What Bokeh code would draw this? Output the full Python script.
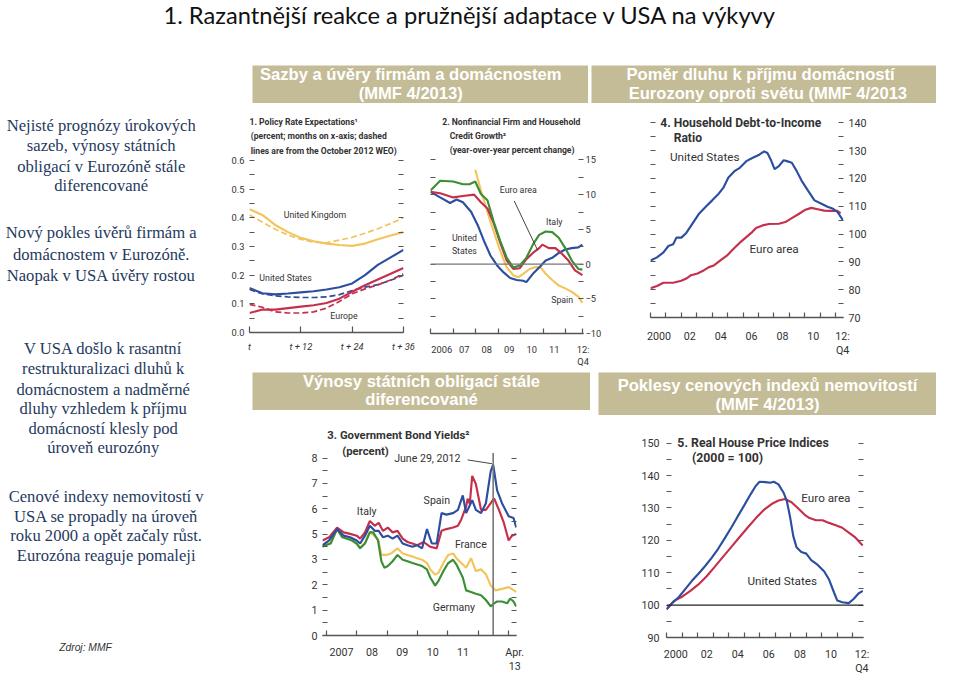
from bokeh.plotting import figure
from bokeh.models import Range1d, LinearAxis, FixedTicker, Spacer, Span
from bokeh.layouts import row, column
from bokeh.embed import file_html
from bokeh.resources import INLINE
from bokeh.core.properties import value

# ---------------------------------------------------------------- data
# Panel 1: policy rate expectations (months ahead)
p1_months = [0, 3, 6, 9, 12, 15, 18, 21, 24, 27, 30, 33, 36]
p1_uk = [0.43, 0.41, 0.375, 0.35, 0.33, 0.318, 0.31, 0.305, 0.302, 0.31, 0.325, 0.338, 0.35]
p1_uk_weo = [0.41, 0.385, 0.36, 0.34, 0.325, 0.315, 0.313, 0.322, 0.332, 0.346, 0.362, 0.38, 0.40]
p1_us = [0.155, 0.137, 0.133, 0.136, 0.14, 0.144, 0.15, 0.158, 0.171, 0.2, 0.236, 0.262, 0.288]
p1_us_weo = [0.15, 0.135, 0.128, 0.124, 0.122, 0.122, 0.124, 0.132, 0.146, 0.158, 0.167, 0.182, 0.2]
p1_eu = [0.068, 0.08, 0.08, 0.085, 0.09, 0.095, 0.103, 0.118, 0.142, 0.165, 0.185, 0.205, 0.225]
p1_eu_weo = [0.098, 0.088, 0.072, 0.068, 0.068, 0.072, 0.085, 0.108, 0.135, 0.152, 0.166, 0.183, 0.205]
p1_yticks = [0.0, 0.1, 0.2, 0.3, 0.4, 0.5, 0.6]
p1_yminor = [0.05, 0.15, 0.25, 0.35, 0.45, 0.55]
p1_ylabels = ["0.0", "0.1", "0.2", "0.3", "0.4", "0.5", "0.6"]
p1_xticks = [0, 12, 24, 36]
p1_xlabels = ["t", "t + 12", "t + 24", "t + 36"]

# Panel 2: credit growth (years)
p2_it_x = [2006.00, 2006.43, 2007.01, 2007.44, 2007.73, 2007.99, 2008.24, 2008.53, 2008.81, 2009.10, 2009.39,
           2009.68, 2009.97, 2010.26, 2010.55, 2010.83, 2011.12, 2011.41, 2011.70, 2011.99, 2012.28, 2012.57, 2012.75]
p2_it = [10.6, 12.0, 11.9, 11.5, 11.5, 11.9, 10.1, 9.2, 6.1, 3.3, 0.9, -0.5, -0.2, 0.9, 2.8, 4.2, 4.7, 4.6,
         3.8, 2.3, 0.5, -0.7, -0.8]
p2_ea_x = [2006.00, 2006.43, 2007.01, 2007.44, 2007.94, 2008.24, 2008.53, 2008.81, 2009.10, 2009.39, 2009.68,
           2009.97, 2010.26, 2010.55, 2010.83, 2010.97, 2011.26, 2011.55, 2011.84, 2012.13, 2012.42, 2012.75]
p2_ea = [10.4, 10.2, 9.6, 9.8, 10.0, 8.9, 8.0, 5.9, 3.1, 0.5, -0.7, -0.6, 0.7, 1.6, 2.3, 2.8, 2.3, 2.3, 1.5,
         0.5, -0.9, -1.6]
p2_us_x = [2006.00, 2006.43, 2006.87, 2007.16, 2007.44, 2007.81, 2008.10, 2008.38, 2008.67, 2008.96, 2009.25,
           2009.54, 2009.83, 2010.12, 2010.26, 2010.55, 2010.83, 2011.12, 2011.41, 2011.70, 2011.99, 2012.28,
           2012.57, 2012.75]
p2_us = [10.4, 9.6, 8.8, 9.3, 8.9, 7.5, 5.6, 3.3, 1.2, -0.2, -1.2, -2.0, -2.3, -2.4, -2.6, -1.4, -0.5, 0.5, 0.9,
         1.6, 2.1, 2.3, 2.4, 2.8]
p2_es_x = [2007.99, 2008.24, 2008.53, 2008.81, 2009.10, 2009.39, 2009.68, 2009.90, 2010.12, 2010.41, 2010.70,
           2010.91, 2011.12, 2011.41, 2011.70, 2011.99, 2012.28, 2012.57, 2012.75]
p2_es = [13.6, 10.6, 7.5, 4.7, 1.9, -0.5, -1.6, -1.9, -1.4, -0.7, -0.4, -0.5, -1.4, -2.3, -3.1, -3.5, -4.0, -4.7,
         -5.6]
p2_yticks = [-10, -5, 0, 5, 10, 15]
p2_yminor = [-7.5, -2.5, 2.5, 7.5, 12.5]
p2_ylabels = ["\u221210", "\u22125", "0", "5", "10", "15"]
p2_xbounds = [2006, 2007, 2008, 2009, 2010, 2011, 2012, 2012.75]
p2_xlabel_pos = [2006.5, 2007.5, 2008.5, 2009.5, 2010.5, 2011.5, 2012.78]
p2_xlabels = ["2006", "07", "08", "09", "10", "11", "12:\nQ4"]

# Panel 3: government bond yields (axis position units; tick labels as printed)
p3_de_x = [2006.87, 2006.98, 2007.14, 2007.35, 2007.52, 2007.68, 2007.84, 2008.00, 2008.11, 2008.27, 2008.43,
           2008.54, 2008.70, 2008.81, 2008.91, 2009.02, 2009.18, 2009.34, 2009.51, 2009.67, 2009.83, 2009.99,
           2010.15, 2010.31, 2010.42, 2010.58, 2010.69, 2010.85, 2011.01, 2011.17, 2011.28, 2011.39, 2011.49,
           2011.60, 2011.76, 2011.92, 2012.09, 2012.25, 2012.41, 2012.52, 2012.62, 2012.78, 2012.95, 2013.05,
           2013.16, 2013.25]
p3_de = [3.50, 3.56, 3.63, 4.20, 3.88, 3.82, 3.75, 3.63, 3.44, 3.63, 4.07, 4.07, 3.75, 2.93, 2.67, 2.74, 2.93,
         3.18, 2.99, 2.93, 2.86, 2.80, 2.74, 2.61, 2.29, 1.97, 2.16, 2.54, 2.86, 2.99, 2.80, 2.54, 2.29, 1.78,
         1.72, 1.65, 1.59, 1.40, 1.15, 1.27, 1.34, 1.34, 1.27, 1.46, 1.34, 1.15]
p3_fr_x = [2006.87, 2007.14, 2007.35, 2007.52, 2007.84, 2008.11, 2008.27, 2008.43, 2008.70, 2008.81, 2008.97,
           2009.13, 2009.34, 2009.51, 2009.67, 2009.83, 2009.99, 2010.15, 2010.31, 2010.42, 2010.58, 2010.69,
           2010.85, 2011.01, 2011.17, 2011.28, 2011.44, 2011.60, 2011.76, 2011.92, 2012.09, 2012.25, 2012.41,
           2012.57, 2012.78, 2013.00, 2013.25]
p3_fr = [3.52, 3.66, 4.22, 3.90, 3.78, 3.47, 3.66, 4.10, 3.80, 3.18, 3.18, 3.24, 3.44, 3.24, 3.18, 3.12, 3.05,
         2.99, 2.86, 2.61, 2.40, 2.48, 2.86, 3.18, 3.24, 3.05, 2.86, 2.67, 3.05, 2.54, 2.61, 2.42, 1.97, 1.78,
         1.84, 1.91, 1.72]
p3_it_x = [2006.87, 2007.09, 2007.35, 2007.57, 2007.78, 2008.00, 2008.11, 2008.27, 2008.43, 2008.59, 2008.72,
           2008.86, 2009.02, 2009.18, 2009.34, 2009.51, 2009.67, 2009.83, 2009.99, 2010.20, 2010.42, 2010.63,
           2010.79, 2010.95, 2011.17, 2011.33, 2011.44, 2011.60, 2011.65, 2011.72, 2011.80, 2011.92, 2012.09,
           2012.25, 2012.41, 2012.52, 2012.68, 2012.84, 2013.00, 2013.11, 2013.25]
p3_it = [3.75, 3.88, 4.26, 4.07, 4.01, 3.94, 3.82, 4.07, 4.52, 4.33, 4.45, 4.13, 4.26, 4.07, 4.13, 3.82, 3.69,
         3.63, 3.56, 3.69, 3.50, 3.44, 4.13, 4.20, 4.26, 4.33, 4.58, 5.09, 5.40, 5.20, 6.30, 5.98, 4.96, 4.96,
         5.22, 5.41, 4.96, 4.45, 3.75, 3.94, 4.01]
p3_es_x = [2006.87, 2007.09, 2007.35, 2007.57, 2007.78, 2008.00, 2008.11, 2008.27, 2008.43, 2008.59, 2008.72,
           2008.86, 2009.02, 2009.18, 2009.34, 2009.51, 2009.67, 2009.83, 2009.99, 2010.15, 2010.31, 2010.47,
           2010.63, 2010.79, 2010.95, 2011.17, 2011.33, 2011.49, 2011.60, 2011.80, 2011.92, 2012.09, 2012.25,
           2012.41, 2012.49, 2012.62, 2012.78, 2013.00, 2013.16, 2013.25]
p3_es = [3.56, 3.75, 4.20, 3.94, 3.88, 3.75, 3.63, 3.94, 4.33, 4.13, 4.13, 3.88, 3.94, 3.82, 3.94, 3.63, 3.56,
         3.50, 3.56, 3.44, 4.20, 3.63, 3.63, 4.83, 4.77, 4.83, 4.96, 5.53, 4.83, 5.34, 4.96, 4.83, 5.22, 6.49,
         6.74, 5.73, 5.22, 4.71, 4.64, 4.26]
p3_event = [2012.49]
p3_event_top = [7.2]
p3_yticks = [0, 1, 2, 3, 4, 5, 6, 7]
p3_yminor = [0.5, 1.5, 2.5, 3.5, 4.5, 5.5, 6.5]
p3_ylabels = ["0", "1", "2", "3", "5", "6", "7", "8"]
p3_xbounds = [2007, 2008, 2009, 2010, 2011, 2012, 2013]
p3_xlabel_pos = [2007.5, 2008.5, 2009.5, 2010.5, 2011.5, 2013.2]
p3_xlabels = ["2007", "08", "09", "10", "11", "Apr.\n13"]

# Panel 4: household debt-to-income ratio
p4_us_x = [2000.00, 2000.42, 2000.84, 2001.16, 2001.47, 2001.68, 2002.00, 2002.32, 2002.74, 2003.16, 2003.58,
           2004.00, 2004.42, 2004.74, 2005.05, 2005.47, 2005.79, 2006.21, 2006.63, 2007.05, 2007.37, 2007.58,
           2007.79, 2008.04, 2008.32, 2008.63, 2008.84, 2009.16, 2009.47, 2009.79, 2010.21, 2010.63, 2011.05,
           2011.47, 2011.79, 2012.11, 2012.46]
p4_us = [90.5, 91.6, 93.4, 95.7, 96.3, 98.7, 98.7, 100.4, 103.9, 107.4, 109.8, 112.1, 114.5, 116.8, 120.3, 122.7,
         123.8, 126.2, 127.4, 128.5, 129.7, 129.1, 126.8, 123.3, 124.4, 126.5, 126.2, 125.6, 122.7, 119.2, 115.6,
         112.1, 111.0, 109.8, 109.2, 108.0, 105.1]
p4_ea_x = [2000.00, 2000.42, 2000.84, 2001.47, 2002.00, 2002.32, 2002.63, 2003.05, 2003.47, 2003.79, 2004.11,
           2004.53, 2004.95, 2005.37, 2005.79, 2006.21, 2006.53, 2006.84, 2007.26, 2007.68, 2008.32, 2008.74,
           2009.16, 2009.58, 2010.00, 2010.42, 2010.84, 2011.26, 2011.68, 2012.11, 2012.32]
p4_ea = [80.5, 81.3, 82.5, 82.5, 83.2, 84.0, 85.2, 85.8, 87.0, 88.1, 88.7, 90.5, 92.2, 94.6, 96.9, 98.9, 100.4,
         102.2, 103.1, 103.6, 103.7, 104.3, 105.7, 107.1, 108.6, 109.4, 108.9, 108.4, 108.3, 108.3, 107.4]
p4_yticks = [70, 80, 90, 100, 110, 120, 130, 140]
p4_yminor = [75, 85, 95, 105, 115, 125, 135]
p4_ylabels = ["70", "80", "90", "100", "110", "120", "130", "140"]
p4_xbounds = list(range(2000, 2013))
p4_xlabel_pos = [2000.55, 2002.55, 2004.55, 2006.55, 2008.55, 2010.55, 2012.45]
p4_xlabels = ["2000", "02", "04", "06", "08", "10", "12:\nQ4"]

# Panel 5: real house price indices (2000 = 100)
p5_us_x = [2000.00, 2000.38, 2000.80, 2001.22, 2001.64, 2002.06, 2002.48, 2002.91, 2003.33, 2003.75, 2004.17,
           2004.59, 2005.01, 2005.43, 2005.75, 2006.00, 2006.38, 2006.69, 2006.91, 2007.22, 2007.54, 2007.75,
           2007.96, 2008.17, 2008.38, 2008.69, 2009.01, 2009.33, 2009.75, 2010.17, 2010.48, 2010.80, 2011.01,
           2011.33, 2011.75, 2012.06, 2012.38, 2012.65]
p5_us = [98.7, 100.7, 102.5, 105.0, 107.5, 109.7, 112.0, 114.6, 117.4, 120.6, 123.9, 127.4, 130.8, 134.3, 136.8,
         138.1, 138.0, 137.8, 138.1, 137.3, 134.8, 132.3, 127.4, 121.4, 117.9, 116.4, 115.9, 113.9, 112.4, 110.4,
         107.9, 103.9, 101.4, 100.9, 100.6, 101.9, 103.6, 104.4]
p5_ea_x = [2000.00, 2000.48, 2001.01, 2001.54, 2002.06, 2002.59, 2003.12, 2003.64, 2004.17, 2004.69, 2005.22,
           2005.75, 2006.27, 2006.80, 2007.22, 2007.64, 2008.06, 2008.48, 2008.91, 2009.22, 2009.64, 2010.06,
           2010.48, 2010.91, 2011.33, 2011.75, 2012.17, 2012.65]
p5_ea = [98.7, 101.3, 102.6, 104.4, 106.4, 108.9, 111.9, 114.9, 117.9, 120.9, 123.9, 126.8, 129.4, 131.3, 132.3,
         132.8, 131.8, 129.9, 127.9, 126.9, 126.2, 126.2, 125.4, 124.7, 123.9, 122.4, 120.9, 118.4]
p5_base = 100
p5_yticks = [90, 100, 110, 120, 130, 140, 150]
p5_yminor = [95, 105, 115, 125, 135, 145]
p5_ylabels = ["90", "100", "110", "120", "130", "140", "150"]
p5_xbounds = list(range(2000, 2013))
p5_xlabel_pos = [2000.6, 2002.6, 2004.6, 2006.6, 2008.6, 2010.6, 2012.6]
p5_xlabels = ["2000", "02", "04", "06", "08", "10", "12:\nQ4"]

# ---------------------------------------------------------------- style
S = 0.977
FONT = "Roboto"
INK = "#333333"
TICK = "#555555"
YEL = "#F2C55C"
RED = "#C62F4B"
BLU = "#2C4EA0"
GRN = "#3A8E34"
TAN = "#C4BC96"
NAVY = "#1F3A60"
LW = 2.2 * S


def sc(v):
    return int(round(v * S))


def fs(px):
    return f"{px * S:.1f}px"


def sp(w, h):
    return Spacer(width=max(int(w), 1), height=max(int(h), 1))


def make_panel(xspan, frame, row_span, tb, xr, yr):
    """xspan: figure left/right (ref px); frame: frame box (ref px);
    row_span: top/bottom of the row (ref px); tb: top/bottom border (px)."""
    x0, x1 = xspan
    fx0, fy0, fx1, fy1 = frame
    r0, r1 = row_span
    T, B = tb
    w = sc(x1) - sc(x0)
    h = sc(fy1) - sc(fy0) + T + B
    p = figure(width=w, height=h, title=None,
               x_range=Range1d(*xr), y_range=Range1d(*yr),
               x_axis_type=None, y_axis_type=None,
               output_backend="svg", toolbar_location=None,
               min_border_left=sc(fx0) - sc(x0), min_border_right=sc(x1) - sc(fx1),
               min_border_top=T, min_border_bottom=B)
    p.outline_line_color = None
    p.background_fill_color = "white"
    p.border_fill_color = "white"
    top_gap = sc(fy0) - T - sc(r0)
    bot_gap = sc(r1) - (sc(fy1) + B)
    kids = []
    if top_gap > 0:
        kids.append(sp(w, top_gap))
    kids.append(p)
    if bot_gap > 0:
        kids.append(sp(w, bot_gap))
    return p, column(*kids)


def y_axis(p, side, ticks, minor, labels=None, size=10, standoff=4):
    ax = LinearAxis(ticker=FixedTicker(ticks=ticks, minor_ticks=minor))
    ax.axis_line_color = None
    ax.major_tick_in = sc(5)
    ax.major_tick_out = 0
    ax.minor_tick_in = sc(5)
    ax.minor_tick_out = 0
    ax.major_tick_line_color = TICK
    ax.minor_tick_line_color = TICK
    ax.major_tick_line_width = 1.1
    ax.minor_tick_line_width = 1.1
    if labels:
        ax.major_label_overrides = {t: l for t, l in zip(ticks, labels)}
        ax.major_label_standoff = sc(standoff)
    else:
        ax.major_label_overrides = {t: "" for t in ticks}
        ax.major_label_standoff = 0
    ax.major_label_text_font = FONT
    ax.major_label_text_font_size = fs(size)
    ax.major_label_text_color = INK
    p.add_layout(ax, side)


def x_axis(p, label_pos, labels, bounds, size=10, standoff=5, italic=False, major_ticks=False):
    ax = LinearAxis(ticker=FixedTicker(ticks=label_pos, minor_ticks=bounds))
    ax.axis_line_color = TICK
    ax.axis_line_width = 1.3
    if major_ticks:
        ax.major_tick_in = sc(6)
        ax.major_tick_out = 0
        ax.major_tick_line_color = TICK
        ax.major_tick_line_width = 1.2
    else:
        ax.major_tick_line_color = None
    ax.minor_tick_in = sc(5)
    ax.minor_tick_out = 0
    ax.minor_tick_line_color = TICK
    ax.minor_tick_line_width = 1.2
    ax.major_label_overrides = {t: l for t, l in zip(label_pos, labels)}
    ax.major_label_standoff = sc(standoff)
    ax.major_label_text_font = FONT
    ax.major_label_text_font_size = fs(size)
    ax.major_label_text_color = INK
    ax.major_label_text_line_height = 1.1
    if italic:
        ax.major_label_text_font_style = "italic"
    p.add_layout(ax, "below")


def label(p, x, y, txt, size=9, bold=False, align="left", color=INK, font=FONT):
    p.text(x=[x], y=[y], text=[txt], text_font=value(font), text_font_size=fs(size),
           text_font_style="bold" if bold else "normal", text_align=align,
           text_baseline="middle", text_color=color)


def canvas(x0, y0, x1, y1, bg="white"):
    p = figure(width=sc(x1) - sc(x0), height=sc(y1) - sc(y0), title=None,
               x_range=Range1d(x0, x1), y_range=Range1d(y1, y0),
               x_axis_type=None, y_axis_type=None,
               output_backend="svg", toolbar_location=None, min_border=0)
    p.outline_line_color = None
    p.background_fill_color = bg
    p.border_fill_color = bg
    return p


ROW1 = (105, 381)
ROW2 = (427, 693)

# ---------------------------------------------------------------- panel 1
p1, w1 = make_panel((228, 432), (255, 116, 412, 340), ROW1, (8, 37), (0, 36), (0, 0.7637))
y_axis(p1, "left", p1_yticks, p1_yminor, p1_ylabels, size=9.5, standoff=5)
y_axis(p1, "right", p1_yticks, p1_yminor)
x_axis(p1, p1_xticks, p1_xlabels, [], size=9.5, standoff=8, italic=True, major_ticks=True)
p1.line(p1_months, p1_uk_weo, line_color=YEL, line_width=LW * 0.8, line_dash="6 3")
p1.line(p1_months, p1_uk, line_color=YEL, line_width=LW)
p1.line(p1_months, p1_us_weo, line_color=BLU, line_width=LW * 0.8, line_dash="6 3")
p1.line(p1_months, p1_eu_weo, line_color=RED, line_width=LW * 0.8, line_dash="6 3")
p1.line(p1_months, p1_eu, line_color=RED, line_width=LW)
p1.line(p1_months, p1_us, line_color=BLU, line_width=LW)
label(p1, 0, 0.733, "1. Policy Rate Expectations\u00b9", size=8.8, bold=True)
label(p1, 0.3, 0.684, "(percent; months on x-axis; dashed", size=8.8, bold=True)
label(p1, 0.3, 0.633, "lines are from the October 2012 WEO)", size=8.8, bold=True)
label(p1, 8.0, 0.411, "United Kingdom", size=9)
label(p1, 2.3, 0.19, "United States", size=9)
label(p1, 18.9, 0.057, "Europe", size=9)

# ---------------------------------------------------------------- panel 2
p2, w2 = make_panel((432, 625), (440, 116, 597, 341), ROW1, (8, 37), (2006.0, 2012.8), (-10, 21.69))
y_axis(p2, "left", p2_yticks, p2_yminor)
y_axis(p2, "right", p2_yticks, p2_yminor, p2_ylabels, size=9.5, standoff=2)
x_axis(p2, p2_xlabel_pos, p2_xlabels, p2_xbounds, size=9.5, standoff=4)
p2.add_layout(Span(location=0, dimension="width", line_color="#777777", line_width=1.4))
p2.line(p2_es_x, p2_es, line_color=YEL, line_width=LW)
p2.line(p2_us_x, p2_us, line_color=BLU, line_width=LW)
p2.line(p2_ea_x, p2_ea, line_color=RED, line_width=LW)
p2.line(p2_it_x, p2_it, line_color=GRN, line_width=LW)
p2.line([2009.72, 2010.76], [9.1, 2.0], line_color="#444444", line_width=1)
label(p2, 2006.52, 20.4, "2. Nonfinancial Firm and Household", size=8.8, bold=True)
label(p2, 2006.85, 18.45, "Credit Growth\u00b2", size=8.8, bold=True)
label(p2, 2006.85, 16.5, "(year-over-year percent change)", size=8.8, bold=True)
label(p2, 2009.9, 10.6, "Euro area", size=9, align="center")
label(p2, 2011.5, 6.1, "Italy", size=9, align="center")
label(p2, 2006.95, 3.8, "United", size=9)
label(p2, 2006.95, 1.85, "States", size=9)
label(p2, 2011.85, -5.2, "Spain", size=9, align="center")

# ---------------------------------------------------------------- panel 4
p4, w4 = make_panel((625, 910), (665, 118, 863, 324), ROW1, (8, 50), (2000.0, 2012.51), (70, 142.6))
y_axis(p4, "left", p4_yticks, p4_yminor)
y_axis(p4, "right", p4_yticks, p4_yminor, p4_ylabels, size=11, standoff=5)
x_axis(p4, p4_xlabel_pos, p4_xlabels, p4_xbounds, size=11, standoff=6)
p4.line(p4_ea_x, p4_ea, line_color=RED, line_width=LW)
p4.line(p4_us_x, p4_us, line_color=BLU, line_width=LW)
label(p4, 2000.63, 140.0, "4. Household Debt-to-Income", size=12.4, bold=True)
label(p4, 2001.5, 134.6, "Ratio", size=12.4, bold=True)
label(p4, 2001.26, 127.7, "United States", size=12)
label(p4, 2006.42, 94.6, "Euro area", size=12)

# ---------------------------------------------------------------- panel 3
p3, w3 = make_panel((300, 545), (330, 439, 528, 652), ROW2, (10, 38), (2006.871, 2013.258), (0, 8.13))
y_axis(p3, "left", p3_yticks, p3_yminor, p3_ylabels, size=11, standoff=5)
y_axis(p3, "right", p3_yticks, p3_yminor)
x_axis(p3, p3_xlabel_pos, p3_xlabels, p3_xbounds, size=11, standoff=4)
p3.line(p3_fr_x, p3_fr, line_color=YEL, line_width=LW)
p3.line(p3_de_x, p3_de, line_color=GRN, line_width=LW)
p3.line(p3_it_x, p3_it, line_color=RED, line_width=LW)
p3.line(p3_es_x, p3_es, line_color=BLU, line_width=LW)
p3.segment(x0=p3_event, y0=[0], x1=p3_event, y1=p3_event_top, line_color="#777777", line_width=1.6)
p3.line([2011.65, 2012.45], [6.93, 6.78], line_color="#444444", line_width=1)
label(p3, 2007.03, 7.89, "3. Government Bond Yields\u00b2", size=11.6, bold=True)
label(p3, 2007.52, 7.28, "(percent)", size=11.6, bold=True)
label(p3, 2009.23, 7.0, "June 29, 2012", size=10.8)
label(p3, 2008.0, 4.9, "Italy", size=10.8)
label(p3, 2010.2, 5.32, "Spain", size=10.8)
label(p3, 2011.23, 3.59, "France", size=10.8)
label(p3, 2010.5, 1.12, "Germany", size=10.8)

# ---------------------------------------------------------------- panel 5
p5, w5 = make_panel((640, 905), (682, 444, 883, 654), ROW2, (10, 38), (2000.0, 2012.7), (90, 152.7))
y_axis(p5, "left", p5_yticks, p5_yminor, p5_ylabels, size=11, standoff=7)
y_axis(p5, "right", p5_yticks, p5_yminor)
x_axis(p5, p5_xlabel_pos, p5_xlabels, p5_xbounds, size=11, standoff=4)
p5.add_layout(Span(location=p5_base, dimension="width", line_color="#222222", line_width=1.1))
p5.line(p5_ea_x, p5_ea, line_color=RED, line_width=LW)
p5.line(p5_us_x, p5_us, line_color=BLU, line_width=LW)
label(p5, 2000.7, 150.0, "5. Real House Price Indices", size=12.6, bold=True)
label(p5, 2001.64, 145.5, "(2000 = 100)", size=12.6, bold=True)
label(p5, 2008.69, 133.1, "Euro area", size=12)
label(p5, 2005.22, 107.5, "United States", size=12)

# ---------------------------------------------------------------- slide texts
title = canvas(0, 0, 959, 32)
title.text(x=[481], y=[15], text=["1. Razantnější reakce a pružnější adaptace v USA na výkyvy"],
           text_font=value("Lato"), text_font_size=fs(24.3), text_align="center",
           text_baseline="middle", text_color="#111111")

left = canvas(0, 32, 228, 693)
blocks = [
    (103, [128, 149, 170, 190], ["Nejisté prognózy úrokových", "sazeb, výnosy státních",
                                 "obligací v Eurozóně stále", "diferencované"]),
    (103, [238, 260, 282], ["Nový pokles úvěrů firmám a", "domácnostem v Eurozóně.",
                            "Naopak v USA úvěry rostou"]),
    (105, [356, 377, 398, 418, 438, 458], ["V USA došlo k rasantní", "restrukturalizaci dluhů k",
                                           "domácnostem a nadměrné", "dluhy vzhledem k příjmu",
                                           "domácností klesly pod", "úroveň eurozóny"]),
    (108, [508, 528, 548, 568], ["Cenové indexy nemovitostí v", "USA se propadly na úroveň",
                                 "roku 2000 a opět začaly růst.", "Eurozóna reaguje pomaleji"]),
]
for cx, ys, lines in blocks:
    left.text(x=[cx] * len(lines), y=ys, text=lines, text_font=value("Liberation Serif"),
              text_font_size=fs(17), text_align="center", text_baseline="middle", text_color=NAVY)
left.text(x=[60], y=[662], text=["Zdroj: MMF"], text_font=value("Liberation Sans"),
          text_font_size=fs(10.5), text_font_style="italic", text_align="left",
          text_baseline="middle", text_color="#333333")


def header(x0, y0, x1, y1, lines):
    h = canvas(x0, y0, x1, y1, bg=TAN)
    for x, y, t, al in lines:
        h.text(x=[x], y=[y], text=[t], text_font=value("Liberation Sans"), text_font_size=fs(17),
               text_font_style="bold", text_align=al, text_baseline="middle", text_color="white")
    return h


box1 = header(258, 67, 602, 105, [(420, 76, "Sazby a úvěry firmám a domácnostem", "center"),
                                  (420, 95, "(MMF 4/2013)", "center")])
box2 = header(605, 67, 958, 105, [(778, 76, "Poměr dluhu k příjmu domácností", "center"),
                                  (643, 95, "Eurozony oproti světu (MMF 4/2013", "left")])
box3 = header(258, 381, 604, 420, [(431, 390, "Výnosy státních obligací stále", "center"),
                                   (431, 409, "diferencované", "center")])
box4 = header(612, 381, 958, 425, [(785, 394, "Poklesy cenových indexů nemovitostí", "center"),
                                   (785, 414, "(MMF 4/2013)", "center")])

# ---------------------------------------------------------------- layout
h_r1 = sc(105) - sc(67)
hdr1 = row(sp(sc(258) - sc(228), h_r1), box1, sp(sc(605) - sc(602), h_r1), box2)
prow1 = row(w1, w2, w4)
h_r2 = sc(427) - sc(381)
hdr2 = row(sp(sc(258) - sc(228), h_r2),
           column(box3, sp(sc(604) - sc(258), sc(427) - sc(420))),
           sp(sc(612) - sc(604), h_r2),
           column(box4, sp(sc(958) - sc(612), sc(427) - sc(425))))
h_p2 = sc(693) - sc(427)
prow2 = row(sp(sc(300) - sc(228), h_p2), w3, sp(sc(640) - sc(545), h_p2), w5)
right = column(sp(sc(958) - sc(228), sc(67) - sc(32)), hdr1, prow1, hdr2, prow2)
layout = column(title, row(left, right))

open("out.html", "w").write(file_html(layout, INLINE))
